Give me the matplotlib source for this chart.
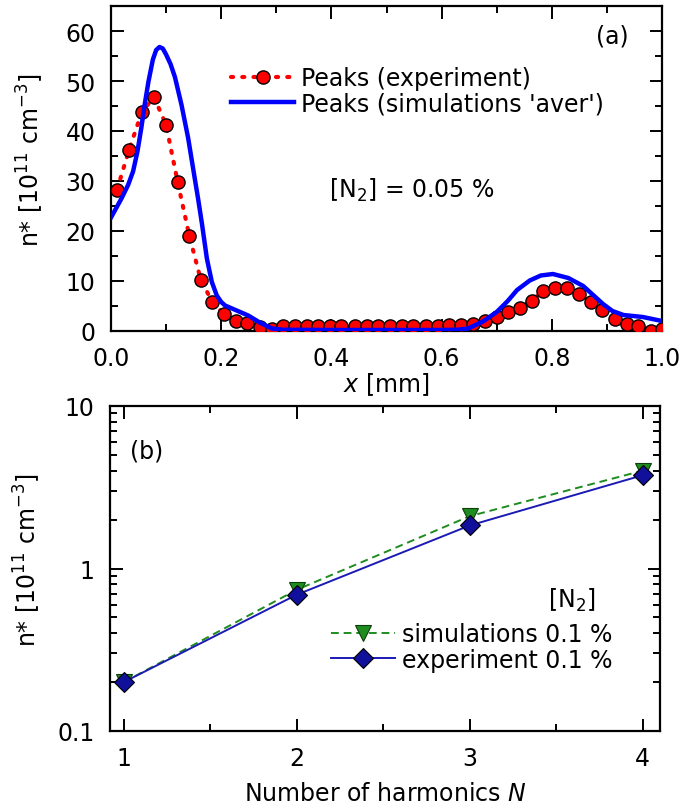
import matplotlib
matplotlib.use("Agg")
import matplotlib.pyplot as plt
from matplotlib.ticker import MultipleLocator, LogLocator, NullFormatter, FixedLocator, FixedFormatter

plt.rcParams['font.family'] = ['DejaVu Sans']
plt.rcParams['mathtext.fontset'] = 'dejavusans'

# ---- panel (a) data ----
exp_x = [0.011, 0.033, 0.056, 0.078, 0.100, 0.121, 0.142, 0.163, 0.184, 0.205, 0.226, 0.247,
         0.270, 0.293, 0.313, 0.334, 0.355, 0.376, 0.397, 0.418, 0.443, 0.464, 0.485, 0.506,
         0.528, 0.548, 0.572, 0.593, 0.613, 0.635, 0.657, 0.679, 0.700, 0.720, 0.742, 0.764,
         0.784, 0.806, 0.828, 0.850, 0.871, 0.891, 0.915, 0.936, 0.956, 0.980, 1.000]
exp_y = [28.3, 36.3, 43.8, 46.8, 41.2, 29.8, 19.1, 10.2, 5.8, 3.4, 2.0, 1.6,
         0.8, 0.5, 1.0, 1.0, 1.0, 1.0, 1.0, 1.1, 1.1, 1.1, 1.1, 1.0,
         1.0, 1.0, 1.0, 1.1, 1.2, 1.2, 1.5, 2.1, 2.9, 3.9, 4.6, 6.1,
         8.0, 8.6, 8.6, 7.4, 5.8, 4.2, 2.4, 1.5, 1.1, 0.1, 0.5]

sim_x = [0.000, 0.004, 0.019, 0.031, 0.040, 0.048, 0.055, 0.061, 0.068, 0.076, 0.082, 0.088,
         0.094, 0.100, 0.108, 0.116, 0.128, 0.140, 0.152, 0.158, 0.165, 0.174, 0.183, 0.192,
         0.200, 0.207, 0.228, 0.249, 0.270, 0.292, 0.312, 0.400, 0.500, 0.600, 0.630, 0.648,
         0.675, 0.700, 0.720, 0.737, 0.760, 0.780, 0.802, 0.830, 0.857, 0.875, 0.893, 0.910,
         0.930, 0.965, 1.000]
sim_y = [22.7, 23.5, 26.5, 29.2, 31.9, 35.9, 40.6, 45.2, 49.9, 54.3, 56.2, 56.8,
         56.5, 55.3, 53.4, 50.8, 45.2, 38.6, 30.5, 26.5, 21.5, 14.5, 9.8, 7.1,
         5.8, 5.1, 4.1, 3.1, 1.7, 0.5, 0.25, 0.2, 0.2, 0.2, 0.25, 0.5,
         1.9, 3.8, 6.0, 8.2, 10.1, 11.1, 11.4, 10.6, 9.0, 7.2, 5.4, 4.0,
         3.2, 2.8, 2.0]

# ---- panel (b) data ----
harm_N = [1, 2, 3, 4]
sim_b = [0.20, 0.74, 2.1, 4.0]
exp_b = [0.20, 0.69, 1.84, 3.75]

FS = 17
W, H = 695, 812
fig = plt.figure(figsize=(W / 100, H / 100), dpi=100)

def px_axes(l, t, r, b):
    return fig.add_axes([l / W, (H - b) / H, (r - l) / W, (b - t) / H])

def style(ax):
    for s in ax.spines.values():
        s.set_linewidth(1.6)
    ax.tick_params(which='both', direction='in', top=True, right=True, width=1.4,
                   labelsize=FS, pad=11)
    ax.tick_params(which='major', length=9)
    ax.tick_params(which='minor', length=5)

# ---- panel (a) ----
ax1 = px_axes(111, 7, 662, 332)
style(ax1)
ax1.plot(exp_x, exp_y, linestyle=(0, (0.5, 2.2)), dash_capstyle='round', color='red', lw=3,
         marker='o', markersize=9.5, markerfacecolor='red', markeredgecolor='black',
         markeredgewidth=1.0, label='Peaks (experiment)', zorder=3)
ax1.plot(sim_x, sim_y, color='#0000ff', lw=3.2, label="Peaks (simulations 'aver')", zorder=4,
         solid_joinstyle='round')
ax1.set_xlim(0, 1.0)
ax1.set_ylim(0, 65)
ax1.xaxis.set_major_locator(MultipleLocator(0.2))
ax1.xaxis.set_minor_locator(MultipleLocator(0.1))
ax1.yaxis.set_major_locator(MultipleLocator(10))
ax1.yaxis.set_minor_locator(MultipleLocator(5))
ax1.xaxis.set_major_formatter(plt.FuncFormatter(lambda v, p: f"{v:.1f}"))
ax1.set_xlabel(r"$\it{x}$ [mm]", fontsize=FS, labelpad=0)
ax1.set_ylabel(r"n* [10$^{11}$ cm$^{-3}$]", fontsize=FS)
ax1.yaxis.set_label_coords(-0.118, 0.53)
ax1.legend(loc='upper left', bbox_to_anchor=(0.2, 0.845), frameon=False, fontsize=FS,
           handlelength=2.7, handletextpad=0.3, labelspacing=0.08, borderaxespad=0)
ax1.text(0.94, 0.908, "(a)", transform=ax1.transAxes, fontsize=FS, ha='right', va='center')
ax1.text(0.395, 0.435, r"[N$_2$] = 0.05 %", transform=ax1.transAxes, fontsize=FS,
         ha='left', va='center')

# ---- panel (b) ----
ax2 = px_axes(110, 407, 660, 732)
style(ax2)
ax2.set_yscale('log')
ax2.plot(harm_N, sim_b, linestyle=(0, (4, 2.5)), color='#1e8c1e', lw=1.4, marker='v',
         markersize=11, markerfacecolor='#1e8c1e', markeredgecolor='#0a400a',
         markeredgewidth=0.8, label='simulations 0.1 %', zorder=3)
ax2.plot(harm_N, exp_b, linestyle='-', color='#1a1ab4', lw=1.4, marker='D', markersize=10.5,
         markerfacecolor='#10109a', markeredgecolor='black', markeredgewidth=0.8,
         label='experiment 0.1 %', zorder=4)
ax2.set_xlim(0.92, 4.1)
ax2.set_ylim(0.1, 10)
ax2.xaxis.set_major_locator(MultipleLocator(1))
ax2.xaxis.set_minor_locator(MultipleLocator(0.5))
ax2.yaxis.set_major_locator(FixedLocator([0.1, 1, 10]))
ax2.yaxis.set_major_formatter(FixedFormatter(["0.1", "1", "10"]))
ax2.yaxis.set_minor_locator(LogLocator(base=10, subs=range(2, 10)))
ax2.yaxis.set_minor_formatter(NullFormatter())
ax2.set_xlabel(r"Number of harmonics $\it{N}$", fontsize=FS, labelpad=8)
ax2.set_ylabel(r"n* [10$^{11}$ cm$^{-3}$]", fontsize=FS)
ax2.yaxis.set_label_coords(-0.122, 0.53)
ax2.legend(loc='upper left', bbox_to_anchor=(0.385, 0.365), frameon=False, fontsize=FS,
           handlelength=2.7, handletextpad=0.3, labelspacing=0.08, borderaxespad=0)
ax2.text(0.84, 0.406, r"[N$_2$]", transform=ax2.transAxes, fontsize=FS, ha='center', va='center')
ax2.text(0.036, 0.862, "(b)", transform=ax2.transAxes, fontsize=FS, ha='left', va='center')

fig.savefig("out.png", dpi=100)
